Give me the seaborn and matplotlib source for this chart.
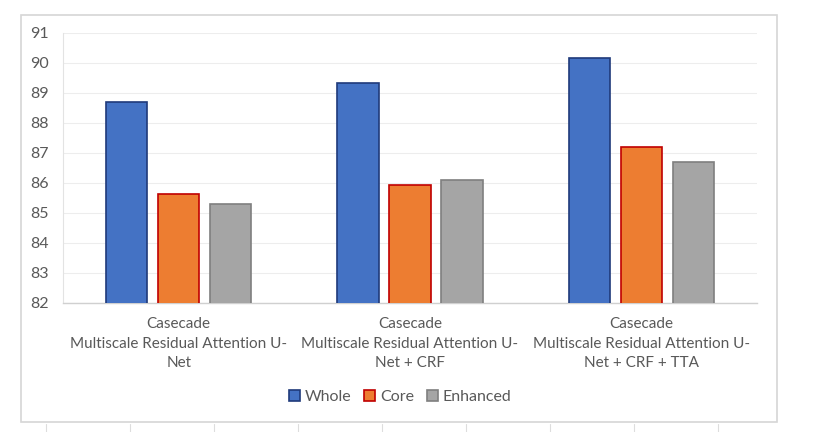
import numpy as np
import pandas as pd
import matplotlib
matplotlib.use("Agg")
import matplotlib.pyplot as plt
import seaborn as sns
from matplotlib.patches import Patch, Rectangle
from matplotlib.lines import Line2D

methods = ["Casecade\nMultiscale Residual Attention U-\nNet",
           "Casecade\nMultiscale Residual Attention U-\nNet + CRF",
           "Casecade\nMultiscale Residual Attention U-\nNet + CRF + TTA"]
regions = ["Whole", "Core", "Enhanced"]
whole = [88.7, 89.34, 90.18]
core = [85.64, 85.94, 87.21]
enhanced = [85.29, 86.11, 86.71]
y_ticks = list(range(82, 92))

fills = ["#4472C4", "#ED7D31", "#A5A5A5"]
edges = ["#1F3A7A", "#C00000", "#7F7F7F"]

df = pd.DataFrame({
    "Method": methods * 3,
    "Region": [r for r in regions for _ in methods],
    "Score": whole + core + enhanced,
})

sns.set_style("white")
plt.rcParams["font.family"] = ["Lato", "DejaVu Sans"]

W, H = 815, 432
fig = plt.figure(figsize=(W / 100, H / 100), dpi=100)
ax = fig.add_axes([63 / W, 1 - 303 / H, 694 / W, 270 / H])

sns.barplot(data=df, x="Method", y="Score", hue="Region", hue_order=regions,
            palette=fills, saturation=1, width=0.675, gap=0.21, legend=False,
            ax=ax, zorder=3)
for cont, ec in zip(ax.containers, edges):
    for bar in cont:
        bar.set_edgecolor(ec)
        bar.set_linewidth(1.2)

ax.set_ylim(82, 91)
ax.set_yticks(y_ticks)
ax.set_xlim(-0.5, 2.5)
ax.set_xlabel("")
ax.set_ylabel("")
ax.grid(axis="y", color="#EDEDED", linewidth=0.8, zorder=0)
ax.set_axisbelow(True)
for s in ["top", "right"]:
    ax.spines[s].set_visible(False)
ax.spines["left"].set_color("#E3E3E3")
ax.spines["bottom"].set_color("#D0D0D0")
ax.spines["bottom"].set_linewidth(1.0)

ax.tick_params(axis="y", length=0, pad=10, labelsize=11.5, labelcolor="#595959")
ax.tick_params(axis="x", length=0, pad=10, labelsize=11, labelcolor="#595959")
for t in ax.get_xticklabels():
    t.set_linespacing(1.52)
ax.set_xticks([-0.5, 0.5, 1.5, 2.5], minor=True)
ax.tick_params(axis="x", which="minor", direction="in", length=4,
               color="#D0D0D0", width=1)

handles = [Patch(facecolor=f, edgecolor=e, linewidth=1.2, label=r)
           for f, e, r in zip(fills, edges, regions)]
fig.legend(handles=handles, loc="center", bbox_to_anchor=(400 / W, 1 - 397 / H),
           ncol=3, frameon=False, fontsize=11.5, labelcolor="#595959",
           handlelength=0.7, handleheight=0.7, handletextpad=0.3,
           columnspacing=0.8)

# outer chart border
fig.add_artist(Rectangle((21 / W, 1 - 422 / H), 756 / W, 407 / H,
                         transform=fig.transFigure, fill=False,
                         edgecolor="#D6D6D6", linewidth=1.2))
# spreadsheet cell marks below the chart
for px in range(46, 800, 84):
    fig.add_artist(Line2D([px / W, px / W], [0, 1 - 424 / H],
                          transform=fig.transFigure, color="#DDDDDD",
                          linewidth=0.8))

fig.savefig("out.png", dpi=100, facecolor="white")
